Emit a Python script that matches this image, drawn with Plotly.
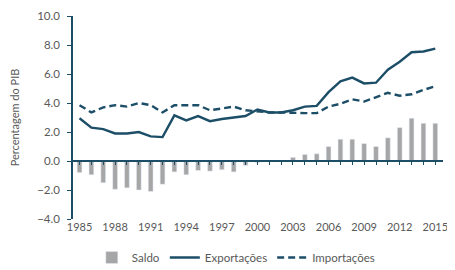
import plotly.graph_objects as go

years = list(range(1985, 2016))
saldo = [-0.8, -0.95, -1.5, -1.95, -1.85, -2.0, -2.1, -1.6, -0.75, -0.95,
         -0.65, -0.7, -0.6, -0.75, -0.3, -0.1, 0.05, 0.05, 0.25, 0.45,
         0.5, 1.0, 1.5, 1.5, 1.2, 1.0, 1.6, 2.3, 2.95, 2.6, 2.6]
exportacoes = [2.95, 2.3, 2.2, 1.9, 1.9, 2.0, 1.7, 1.65, 3.15, 2.8,
               3.1, 2.75, 2.9, 3.0, 3.1, 3.55, 3.35, 3.35, 3.5, 3.75,
               3.8, 4.75, 5.5, 5.75, 5.35, 5.4, 6.3, 6.85, 7.5, 7.55, 7.75]
importacoes = [3.85, 3.35, 3.7, 3.85, 3.75, 4.0, 3.85, 3.35, 3.85, 3.85,
               3.85, 3.5, 3.6, 3.75, 3.5, 3.4, 3.35, 3.35, 3.3, 3.3,
               3.3, 3.75, 3.95, 4.25, 4.1, 4.4, 4.7, 4.5, 4.6, 4.9, 5.15]
x_ticks = list(range(1985, 2016, 3))
y_ticks = [-4, -2, 0, 2, 4, 6, 8, 10]

line_color = "#1d4e68"
bar_color = "#a6a6a6"
text_color = "#595959"
font = "Lato, Liberation Sans, sans-serif"

fig = go.Figure()
fig.add_trace(go.Bar(x=years, y=saldo, name="Saldo", marker_color=bar_color,
                     width=0.4))
fig.add_trace(go.Scatter(x=years, y=exportacoes, name="Exportações", mode="lines",
                         line=dict(color=line_color, width=2.4)))
fig.add_trace(go.Scatter(x=years, y=importacoes, name="Importações", mode="lines",
                         line=dict(color=line_color, width=2.4, dash="7px,4px")))
# invisible trace to carry the zero-line axis with year ticks
fig.add_trace(go.Scatter(x=years, y=[0]*len(years), xaxis="x2", mode="lines",
                         line=dict(width=0), showlegend=False, hoverinfo="skip"))

# the page body adds an 8px margin, so the figure is sized/offset to compensate
fig.update_layout(
    width=447, height=262,
    margin=dict(l=65, r=12, t=8, b=51, autoexpand=False),
    paper_bgcolor="white", plot_bgcolor="white",
    font=dict(family=font, size=11.5, color=text_color),
    showlegend=True,
    legend=dict(orientation="h", x=0.44, xanchor="center", y=-0.19, yanchor="middle",
                font=dict(size=11.5, color=text_color), itemwidth=30,
                traceorder="normal"),
    xaxis=dict(range=[1984.45, 2015.65], tickvals=x_ticks, showline=False,
               showgrid=False, zeroline=False, ticks="", automargin=False,
               ticklabeloverflow="allow",
               tickfont=dict(size=11, color=text_color)),
    xaxis2=dict(range=[1984.45, 2015.65], overlaying="x", anchor="free",
                position=4/14, showline=True, linecolor=line_color, linewidth=1.5,
                ticks="outside", ticklen=3, tickcolor=line_color, tickwidth=1,
                automargin=False,
                tickvals=years, showticklabels=False, showgrid=False, zeroline=False),
    yaxis=dict(range=[-4, 10], tickvals=y_ticks, tickformat=".1f",
               showline=True, linecolor=line_color, linewidth=1.5,
               ticks="outside", ticklen=4, tickcolor=line_color,
               ticklabelstandoff=5, automargin=False,
               showgrid=False, zeroline=False,
               title=dict(text="Percentagem do PIB", font=dict(size=11, color=text_color),
                          standoff=18),
               tickfont=dict(size=11.5, color=text_color)),
    bargap=0.6,
)

fig.write_html("out.html")
